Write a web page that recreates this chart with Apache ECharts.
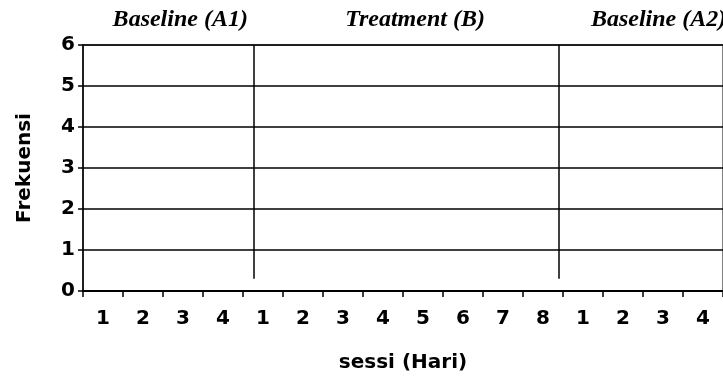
<!DOCTYPE html>
<html>
<head>
<meta charset="utf-8">
<script src="https://cdn.jsdelivr.net/npm/echarts@6/dist/echarts.min.js"></script>
<style>
html,body{margin:0;padding:0;background:#fff;}
#main{width:723px;height:378px;}
</style>
</head>
<body>
<div id="main"></div>
<script>
// sessions per phase, labels as printed on the x axis
var phases = ['Baseline (A1)', 'Treatment (B)', 'Baseline (A2)'];
var sessionLabels = ['1','2','3','4','1','2','3','4','5','6','7','8','1','2','3','4'];
// phase change lines, in session units from the left edge (0..16)
var phaseChangeAt = [4.27, 11.9];
var phaseLineFrom = 0.3;
var phaseTitleAt = [2.3, 8.15, 14.22];

var myChart = echarts.init(document.getElementById('main'));

var plotLeft = 83, plotRight = -2, plotW = 723 - plotLeft - plotRight;

var titles = [];
for (var i = 0; i < phases.length; ++i) {
	titles.push({
		text: phases[i],
		left: plotLeft + plotW * phaseTitleAt[i] / sessionLabels.length,
		top: 3,
		textAlign: 'center',
		textStyle: {
			fontFamily: 'Liberation Serif',
			fontStyle: 'italic',
			fontWeight: 'bold',
			fontSize: 24,
			color: '#000'
		}
	});
}

var phaseLines = [];
for (var i = 0; i < phaseChangeAt.length; ++i) {
	phaseLines.push([{coord: [phaseChangeAt[i], phaseLineFrom]}, {coord: [phaseChangeAt[i], 6]}]);
}

var boldText = {fontFamily: 'DejaVu Sans', fontWeight: 'bold', fontSize: 20, color: '#000'};

option = {
	animation: false,
	title: titles,
	grid: {
		left: plotLeft, right: plotRight, top: 45, bottom: 86,
		show: true, borderColor: '#808080', borderWidth: 2
	},
	xAxis: [
		{
			type: 'category',
			data: sessionLabels,
			boundaryGap: true,
			name: 'sessi (Hari)',
			nameLocation: 'middle',
			nameGap: 62,
			nameTextStyle: boldText,
			axisLine: {lineStyle: {color: '#000', width: 2}},
			axisTick: {show: true, length: 6, lineStyle: {color: '#000', width: 1.5}},
			axisLabel: {margin: 18, fontFamily: 'DejaVu Sans', fontWeight: 'bold', fontSize: 20, color: '#000', interval: 0},
			splitLine: {show: false}
		},
		{
			type: 'value',
			min: 0, max: sessionLabels.length,
			show: false
		}
	],
	yAxis: {
		type: 'value',
		min: 0, max: 6, interval: 1,
		name: 'Frekuensi',
		nameLocation: 'middle',
		nameGap: 48,
		nameTextStyle: boldText,
		axisLine: {show: true, lineStyle: {color: '#000', width: 1.5}},
		axisTick: {show: true, length: 5, lineStyle: {color: '#000', width: 1.5}},
		axisLabel: {margin: 8, fontFamily: 'DejaVu Sans', fontWeight: 'bold', fontSize: 20, color: '#000'},
		splitLine: {show: true, lineStyle: {color: '#000', width: 1.5}}
	},
	series: [
		{
			type: 'line',
			xAxisIndex: 1,
			data: [],
			markLine: {
				silent: true,
				symbol: 'none',
				label: {show: false},
				lineStyle: {color: '#000', width: 1.5, type: 'solid'},
				data: phaseLines
			}
		}
	]
};

myChart.setOption(option);
</script>
</body>
</html>
